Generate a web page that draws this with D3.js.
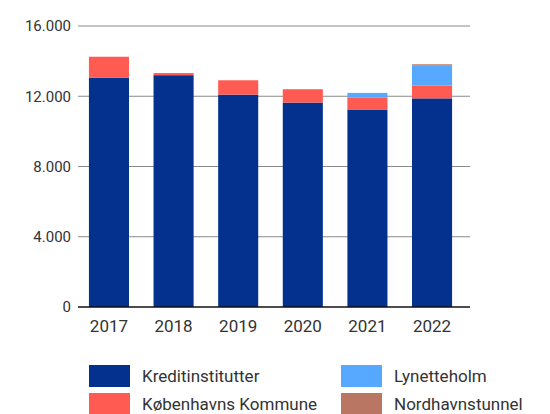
<!DOCTYPE html>
<html>
<head>
<meta charset="utf-8">
<script src="https://cdn.jsdelivr.net/npm/d3@7"></script>
<style>
  body { margin: 0; background: #fff; }
  svg { display: block; font-family: Roboto, "Liberation Sans", sans-serif; }
</style>
</head>
<body>
<div id="chart"></div>
<script>
// data (mio. kr.)
const years = ["2017", "2018", "2019", "2020", "2021", "2022"];
const kredit = [13050, 13200, 12090, 11640, 11220, 11880];
const kommune = [1200, 120, 820, 760, 720, 720];
const lynetteholm = [0, 0, 0, 0, 250, 1140];
const nordhavn = [0, 0, 0, 0, 0, 80];

const seriesNames = ["Kreditinstitutter", "Københavns Kommune", "Lynetteholm", "Nordhavnstunnel"];
const seriesColors = ["#05318e", "#ff5b52", "#56a9ff", "#b97763"];
const yTicks = [0, 4000, 8000, 12000, 16000];

const width = 550, height = 414;
const plotLeft = 78, plotRight = 470;

const rows = years.map((y, i) => ({
    year: y,
    "Kreditinstitutter": kredit[i],
    "Københavns Kommune": kommune[i],
    "Lynetteholm": lynetteholm[i],
    "Nordhavnstunnel": nordhavn[i]
}));

const svg = d3.select("#chart").append("svg")
    .attr("width", width).attr("height", height);

const x = d3.scaleBand().domain(years).range([76, 465]).paddingInner(0.38).paddingOuter(0.2);
const y = d3.scaleLinear().domain([0, 16000]).range([307, 26]);

const fmt = d => d3.format(",")(d).replace(/,/g, ".");

// gridlines
svg.append("g").selectAll("line").data(yTicks.filter(d => d > 0)).enter().append("line")
    .attr("x1", plotLeft).attr("x2", plotRight)
    .attr("y1", d => y(d)).attr("y2", d => y(d))
    .attr("stroke", "#8a8a8a").attr("stroke-width", 1);

// y labels
svg.append("g").selectAll("text").data(yTicks).enter().append("text")
    .attr("x", 71).attr("y", d => y(d)).attr("dy", "0.35em")
    .attr("text-anchor", "end").attr("fill", "#333").attr("font-size", "15px")
    .text(fmt);

// bars
const stacked = d3.stack().keys(seriesNames)(rows);
const color = d3.scaleOrdinal().domain(seriesNames).range(seriesColors);

svg.append("g").selectAll("g").data(stacked).enter().append("g")
    .attr("fill", d => color(d.key))
    .selectAll("rect").data(d => d).enter().append("rect")
    .attr("x", d => x(d.data.year))
    .attr("width", x.bandwidth())
    .attr("y", d => y(d[1]))
    .attr("height", d => y(d[0]) - y(d[1]));

// baseline
svg.append("line")
    .attr("x1", plotLeft).attr("x2", plotRight)
    .attr("y1", y(0)).attr("y2", y(0))
    .attr("stroke", "#111").attr("stroke-width", 1.5);

// x labels
svg.append("g").selectAll("text").data(years).enter().append("text")
    .attr("x", d => x(d) + x.bandwidth() / 2).attr("y", 332)
    .attr("text-anchor", "middle").attr("fill", "#333").attr("font-size", "17px")
    .text(d => d);

// legend
const legendPos = [[89, 365], [89, 393], [341, 365], [341, 393]];
const legend = svg.append("g").selectAll("g").data(seriesNames).enter().append("g")
    .attr("transform", (d, i) => `translate(${legendPos[i][0]},${legendPos[i][1]})`);
legend.append("rect").attr("width", 41).attr("height", 22).attr("fill", d => color(d));
legend.append("text").attr("x", 53).attr("y", 11).attr("dy", "0.35em")
    .attr("fill", "#333").attr("font-size", "17px")
    .text(d => d);
</script>
</body>
</html>
